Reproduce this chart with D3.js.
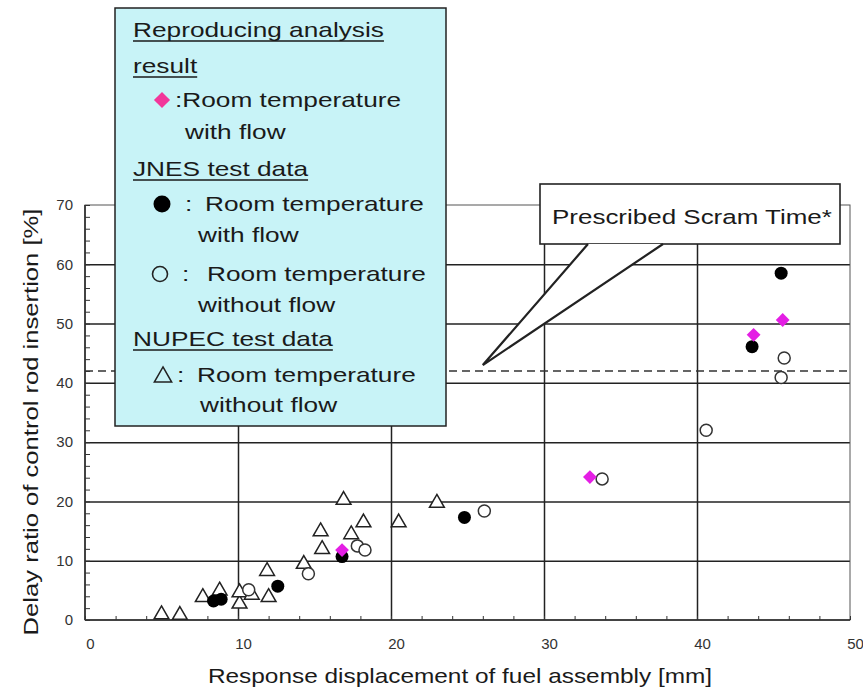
<!DOCTYPE html>
<meta charset="utf-8">
<style>
body { margin: 0; background: #fff; }
text { font-family: "Liberation Sans", Arial, sans-serif; fill: #1a1a1a; }
.tick text { font-size: 15px; fill: #333; }
.grid line { stroke: #222; stroke-width: 1.5; }
.minor line { stroke: #333; stroke-width: 1; }
.domain { display: none; }
</style>
<body>
<div id="chart"></div>
<script src="https://d3js.org/d3.v7.min.js"></script>
<script>

// [displacement mm, delay ratio %]
var analysisWithFlow = [[16.8, 11.8], [33.0, 24.1], [43.7, 48.1], [45.6, 50.6]];
var jnesWithFlow = [[8.4, 3.2], [8.9, 3.5], [12.6, 5.7], [16.8, 10.7], [24.8, 17.3], [43.6, 46.1], [45.5, 58.5]];
var jnesWithoutFlow = [[10.7, 5.1], [14.6, 7.8], [17.8, 12.5], [18.3, 11.8], [26.1, 18.4], [33.8, 23.8],
                       [40.6, 32.0], [45.7, 44.2], [45.5, 40.9]];
var nupecWithoutFlow = [[5.0, 1.1], [6.2, 1.0], [7.7, 4.0], [8.8, 5.1], [10.1, 2.9], [10.1, 4.8], [10.9, 4.4],
                        [12.0, 4.0], [11.9, 8.4], [14.3, 9.6], [15.5, 12.1], [15.4, 15.1], [16.9, 20.4],
                        [17.4, 14.6], [18.2, 16.6], [20.5, 16.6], [23.0, 19.9]];
var xTicks = [0, 10, 20, 30, 40, 50];
var yTicks = [0, 10, 20, 30, 40, 50, 60, 70];
var scramTime = 42;
var calloutTip = [26, 43];

var margin = {top: 205, right: 13, bottom: 73, left: 85},
    width = 863 - margin.left - margin.right,
    height = 693 - margin.top - margin.bottom;

var x = d3.scaleLinear().domain([0, 50]).range([0, width]);
var y = d3.scaleLinear().domain([0, 70]).range([height, 0]);

var root = d3.select("#chart").append("svg")
    .attr("width", 863)
    .attr("height", 693);

var svg = root.append("g")
    .attr("transform", "translate(" + margin.left + "," + margin.top + ")");

// the original font is wide, so stretch text along its length
function place(sel, px, py, s, rot) {
  return sel.attr("transform", "translate(" + px + "," + py + ")" + (rot ? " rotate(" + rot + ")" : "") + " scale(" + s + ",1)");
}

// grid
svg.append("g").attr("class", "grid")
    .call(d3.axisLeft(y).tickValues(yTicks.slice(1, -1)).tickSize(-width).tickFormat(""));
svg.append("g").attr("class", "grid")
    .attr("transform", "translate(0," + height + ")")
    .call(d3.axisBottom(x).tickValues(xTicks.slice(1, -1)).tickSize(height).tickFormat(""))
    .selectAll("line").attr("y2", -height);

// frame
svg.append("rect")
    .attr("width", width).attr("height", height)
    .attr("fill", "none").attr("stroke", "#555").attr("stroke-width", 1);
svg.append("line").attr("x1", 0).attr("x2", 0).attr("y1", 0).attr("y2", height)
    .attr("stroke", "#222").attr("stroke-width", 1.5);
svg.append("line").attr("x1", 0).attr("x2", width).attr("y1", height).attr("y2", height)
    .attr("stroke", "#222").attr("stroke-width", 1.5);

// minor ticks (inside)
svg.append("g").attr("class", "minor")
    .call(d3.axisLeft(y).tickValues(d3.range(0, 71, 2)).tickSize(-5).tickFormat(""));
svg.append("g").attr("class", "minor")
    .attr("transform", "translate(0," + height + ")")
    .call(d3.axisBottom(x).tickValues(d3.range(0, 51, 2)).tickSize(-4).tickFormat(""));

// tick labels
svg.append("g")
    .call(d3.axisLeft(y).tickValues(yTicks).tickSize(0).tickPadding(12));
svg.append("g")
    .attr("transform", "translate(0," + height + ")")
    .call(d3.axisBottom(x).tickValues(xTicks).tickSize(0).tickPadding(18))
    .selectAll("text").attr("dx", 5);

// scram time line
svg.append("line")
    .attr("x1", 0).attr("x2", width)
    .attr("y1", y(scramTime)).attr("y2", y(scramTime))
    .attr("stroke", "#333").attr("stroke-width", 1.3)
    .attr("stroke-dasharray", "8,5");

// axis titles
place(root.append("text"), 460, 683, 1.22)
    .attr("text-anchor", "middle").attr("font-size", 20)
    .text("Response displacement of fuel assembly [mm]");
place(root.append("text"), 38, 422, 1.22, -90)
    .attr("text-anchor", "middle").attr("font-size", 21)
    .text("Delay ratio of control rod insertion [%]");

// legend box
var lg = root.append("g");
lg.append("rect")
    .attr("x", 115).attr("y", 8).attr("width", 331).attr("height", 418)
    .attr("fill", "#c8f3f7").attr("stroke", "#222").attr("stroke-width", 1.5);

function legendText(str, px, py, underline) {
  var t = place(lg.append("text"), px, py, 1.25).attr("font-size", 21).text(str);
  if (underline) {
    var w = t.node().getComputedTextLength() * 1.25;
    lg.append("line").attr("x1", px).attr("x2", px + w)
        .attr("y1", py + 4).attr("y2", py + 4)
        .attr("stroke", "#1a1a1a").attr("stroke-width", 1.6);
  }
}

legendText("Reproducing analysis", 133, 37, true);
legendText("result", 133, 73, true);
lg.append("path").attr("d", d3.symbol(d3.symbolSquare, 130)())
    .attr("transform", "translate(162,100) rotate(45)").attr("fill", "#f2369a");
legendText(":Room temperature", 175, 107);
legendText("with flow", 185, 139);
legendText("JNES test data", 133, 176, true);
lg.append("circle").attr("cx", 162).attr("cy", 204).attr("r", 8.5).attr("fill", "#000");
legendText(":", 185, 211);
legendText("Room temperature", 205, 211);
legendText("with flow", 198, 242);
lg.append("circle").attr("cx", 160).attr("cy", 274).attr("r", 7.5)
    .attr("fill", "none").attr("stroke", "#222").attr("stroke-width", 1.6);
legendText(":", 182, 281);
legendText("Room temperature", 207, 281);
legendText("without flow", 198, 312);
legendText("NUPEC test data", 133, 346, true);
lg.append("path").attr("d", d3.symbol(d3.symbolTriangle, 130)())
    .attr("transform", "translate(163,377)")
    .attr("fill", "none").attr("stroke", "#222").attr("stroke-width", 1.5);
legendText(":", 177, 382);
legendText("Room temperature", 197, 382);
legendText("without flow", 200, 412);

// callout
var co = root.append("g");
co.append("rect")
    .attr("x", 540).attr("y", 184).attr("width", 300).attr("height", 60)
    .attr("fill", "#fff").attr("stroke", "#222").attr("stroke-width", 1.6);
var tipX = margin.left + x(calloutTip[0]), tipY = margin.top + y(calloutTip[1]);
co.append("path")
    .attr("d", "M588,244L" + tipX + "," + tipY + "L663,244")
    .attr("fill", "#fff").attr("stroke", "#222").attr("stroke-width", 2.2);
place(co.append("text"), 552, 224, 1.28).attr("font-size", 20.3).text("Prescribed Scram Time*");

// data
svg.append("g").selectAll("path")
    .data(nupecWithoutFlow).enter().append("path")
    .attr("d", d3.symbol(d3.symbolTriangle, 95)())
    .attr("transform", function(d) { return "translate(" + x(d[0]) + "," + (y(d[1]) + 1) + ")"; })
    .attr("fill", "#fff").attr("stroke", "#222").attr("stroke-width", 1.5);

svg.append("g").selectAll("circle")
    .data(jnesWithoutFlow).enter().append("circle")
    .attr("cx", function(d) { return x(d[0]); })
    .attr("cy", function(d) { return y(d[1]); })
    .attr("r", 6)
    .attr("fill", "#fff").attr("stroke", "#333").attr("stroke-width", 1.5);

svg.append("g").selectAll("circle")
    .data(jnesWithFlow).enter().append("circle")
    .attr("cx", function(d) { return x(d[0]); })
    .attr("cy", function(d) { return y(d[1]); })
    .attr("r", 6.5)
    .attr("fill", "#000");

svg.append("g").selectAll("path")
    .data(analysisWithFlow).enter().append("path")
    .attr("d", d3.symbol(d3.symbolSquare, 95)())
    .attr("transform", function(d) { return "translate(" + x(d[0]) + "," + y(d[1]) + ") rotate(45)"; })
    .attr("fill", "#e41ee4");

</script>
</body>
